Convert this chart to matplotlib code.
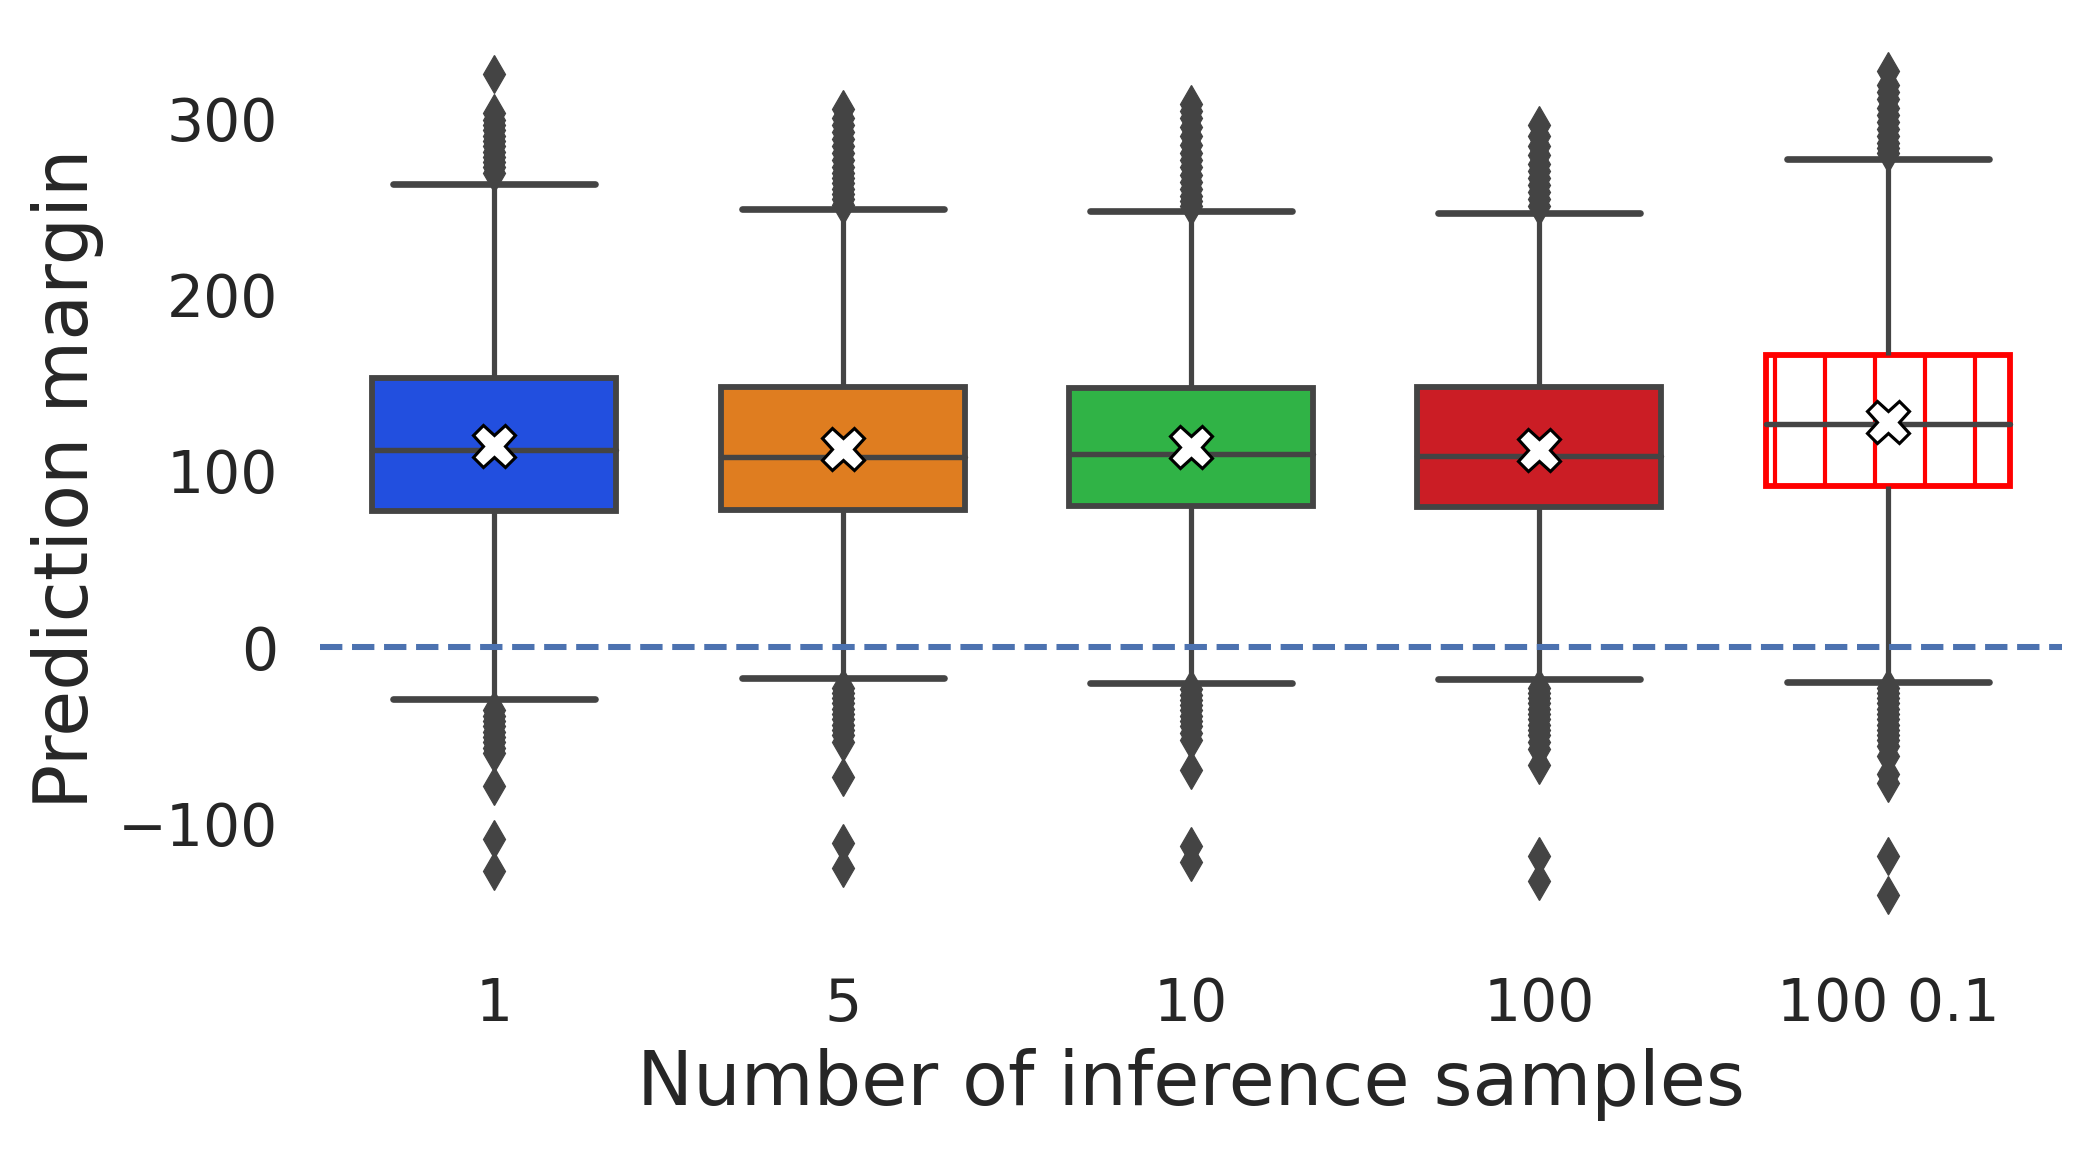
import matplotlib
matplotlib.use('Agg')
import matplotlib.pyplot as plt

# box statistics (prediction margin)
labels = ['1', '5', '10', '100', '100 0.1']
q1 = [77.3, 78.0, 80.0, 79.2, 91.5]
med = [111.7, 108.0, 109.6, 108.3, 126.5]
q3 = [152.4, 147.7, 146.7, 147.7, 165.6]
means = [114.0, 112.5, 113.3, 111.7, 127.8]
whislo = [-29.3, -17.6, -20.4, -18.2, -19.7]
whishi = [262.4, 248.4, 247.3, 246.4, 276.6]
fliers_hi = [
    [269, 272, 275, 278, 281, 284, 287, 290, 293, 296, 299, 303, 325],
    [251, 254, 257, 260, 263, 266, 269, 272, 276, 280, 284, 288, 292, 296, 300, 305],
    [250, 253, 256, 260, 264, 268, 272, 276, 280, 285, 290, 295, 300, 304, 308],
    [250, 254, 258, 262, 266, 270, 274, 279, 284, 290, 296],
    [280, 283, 286, 290, 294, 298, 302, 306, 311, 315, 319, 327],
]
fliers_lo = [
    [-36, -39, -42, -45, -48, -51, -54, -57, -60, -79, -109, -127],
    [-23, -26, -29, -32, -35, -38, -41, -44, -47, -50, -54, -73.5, -111, -125.5],
    [-24, -27, -30, -33, -36, -39, -42, -45, -49, -53, -70, -113, -122],
    [-23, -26, -29, -32, -35, -38, -41, -44, -47, -50, -54, -58, -67, -118.5, -132.7],
    [-23, -26, -29, -32, -35, -38, -41, -44, -47, -50, -53, -56, -62, -72, -77, -118.5, -140.7],
]
colors = ['#224fdf', '#df7d20', '#30b346', '#cb1d25', 'white']

GRAY = '#444444'
TXT = '#262626'

stats = []
for i, lab in enumerate(labels):
    stats.append({'label': lab, 'q1': q1[i], 'med': med[i], 'q3': q3[i],
                  'mean': means[i], 'whislo': whislo[i], 'whishi': whishi[i],
                  'fliers': fliers_hi[i] + fliers_lo[i]})

fig = plt.figure(figsize=(2093 / 300, 1152 / 300), dpi=300)
ax = fig.add_axes([0.1529, 0.1889, 0.8323, 0.7912])

bp = ax.bxp(stats, positions=range(len(labels)), widths=0.7, capwidths=0.58,
            patch_artist=True, showmeans=True,
            boxprops=dict(edgecolor=GRAY, linewidth=1.4),
            whiskerprops=dict(color=GRAY, linewidth=1.25, solid_capstyle='butt'),
            capprops=dict(color=GRAY, linewidth=1.6, solid_capstyle='round'),
            medianprops=dict(color=GRAY, linewidth=1.3, solid_capstyle='round'),
            flierprops=dict(marker='d', markersize=6.5, markerfacecolor=GRAY,
                            markeredgecolor=GRAY, markeredgewidth=0.3, linestyle='none'),
            meanprops=dict(marker='X', markersize=10.3, markerfacecolor='white',
                           markeredgecolor='black', markeredgewidth=0.75))
for box, c in zip(bp['boxes'], colors):
    box.set_facecolor(c)
last = bp['boxes'][-1]
last.set_edgecolor('red')
last.set_hatch('|')

ax.axhline(0, ls='--', color='#4c72b0', lw=1.45, zorder=5)

ax.set_xlim(-0.5, len(labels) - 0.5)
ax.set_ylim(-163, 354)
ax.set_yticks([-100, 0, 100, 200, 300])
ax.set_xticks(range(len(labels)))
ax.set_xticklabels(labels)
for s in ax.spines.values():
    s.set_visible(False)
ax.tick_params(axis='both', length=0, labelsize=14.0, labelcolor=TXT)
ax.tick_params(axis='x', pad=10)
ax.tick_params(axis='y', pad=10)
ax.set_xlabel('Number of inference samples', fontsize=18, color=TXT, labelpad=3.5)
ax.set_ylabel('Prediction margin', fontsize=18, color=TXT, labelpad=3.5)

fig.savefig('out.png', dpi=300, facecolor='white')
